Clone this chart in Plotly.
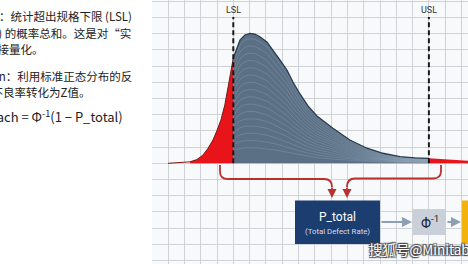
import numpy as np
import plotly.graph_objects as go

W, H = 468, 264
X0, CELL_X, Y0, CELL_Y = 151.8, 16.3, 163.3, 16.2

# ---- data (grid units) ----
curve_u = [0.99, 1.72, 2.34, 2.77, 3.14, 3.44, 3.75, 3.99, 4.24, 4.48, 4.73, 5.0, 5.41, 5.71,
           6.02, 6.32, 6.63, 7.06, 7.43, 7.86, 8.29, 8.66, 9.09, 9.58, 10.13, 11.11, 12.15,
           13.2, 14.18, 15.22, 16.14, 17.0, 17.98, 19.4]
curve_v = [0.0, 0.03, 0.09, 0.23, 0.51, 0.91, 1.44, 1.99, 2.67, 3.6, 5.12, 6.5, 7.61, 7.92,
           8.02, 7.98, 7.81, 7.49, 7.0, 6.38, 5.76, 5.02, 4.28, 3.54, 2.92, 2.16, 1.44,
           0.93, 0.62, 0.41, 0.34, 0.31, 0.23, 0.15]
LSL, USL = 5.0, 17.0
spec_labels = ["LSL", "USL"]
left_lines = [
    "n：统计超出规格下限 (LSL)",
    "率 (P) 的概率总和。这是对“实",
    "直接量化。",
    "Transformation：利用标准正态分布的反",
    "将不良率转化为Z值。",
    "Z_Approach = Φ<sup>-1</sup>(1 − P_total)",
]
left_right_px = [134, 133, 46, 134, 92, 125]
left_y_px = [16, 33, 49, 76, 92, 116]
left_sizes = [11.5, 11.5, 11.5, 11.5, 11.5, 13]
box_title, box_sub = "P_total", "(Total Defect Rate)"
phi_text = "Φ<sup>-1</sup>"
watermark = "搜狐号@Minitab University"

u = np.array(curve_u); v = np.array(curve_v)

def pu(x):  # pixel x -> grid unit
    return (x - X0) / CELL_X

def pv(y):  # pixel y -> grid unit
    return (Y0 - y) / CELL_Y

fig = go.Figure()

GRAY = "#5b6f85"
RED = "#e8141a"
m_mid = (u >= LSL) & (u <= USL)
m_left = (u >= 2.3) & (u <= LSL)
m_right = u >= USL

fig.add_trace(go.Scatter(x=u[m_mid], y=v[m_mid], fill="tozeroy", fillcolor=GRAY,
                         line=dict(width=0), mode="lines", hoverinfo="skip"))
# texture lines (scaled copies of the curve inside the grey area)
for k in np.linspace(0.12, 0.96, 16):
    fig.add_trace(go.Scatter(x=u[m_mid], y=v[m_mid] * k, mode="lines",
                             line=dict(width=0.6, color="rgba(190,205,220,0.35)"),
                             hoverinfo="skip"))
fig.add_trace(go.Scatter(x=u[m_left], y=v[m_left], fill="tozeroy", fillcolor=RED,
                         line=dict(width=0), mode="lines", hoverinfo="skip"))
fig.add_trace(go.Scatter(x=u[m_right], y=v[m_right], fill="tozeroy", fillcolor=RED,
                         line=dict(width=0), mode="lines", hoverinfo="skip"))
fig.add_trace(go.Scatter(x=u[u <= LSL], y=v[u <= LSL], mode="lines",
                         line=dict(width=1, color="#7a1a1a"), hoverinfo="skip"))
fig.add_trace(go.Scatter(x=u[m_mid], y=v[m_mid], mode="lines",
                         line=dict(width=1.3, color="#2a3b50"), hoverinfo="skip"))

shapes = []
annos = []
# spec limit lines
for s, lab in zip([LSL, USL], spec_labels):
    shapes.append(dict(type="line", xref="x", yref="y", x0=s, x1=s, y0=0, y1=pv(17),
                       line=dict(color="#1a1a1a", width=2, dash="5px,3px"), layer="above"))
    annos.append(dict(x=s, y=pv(9.5), xref="x", yref="y", text=lab, showarrow=False,
                      font=dict(size=9, color="#333333", family="Roboto")))

ARC = "#b9302f"
# red connector paths
lp = (f"M {pu(220)},{pv(165)} L {pu(220)},{pv(172)} Q {pu(220)},{pv(179)} {pu(228)},{pv(179)} "
      f"L {pu(324)},{pv(179)} Q {pu(332)},{pv(179)} {pu(332)},{pv(187)}")
rp = (f"M {pu(441)},{pv(165)} L {pu(441)},{pv(171)} Q {pu(441)},{pv(178.5)} {pu(433)},{pv(178.5)} "
      f"L {pu(355)},{pv(178.5)} Q {pu(347)},{pv(178.5)} {pu(347)},{pv(187)}")
for p in (lp, rp):
    shapes.append(dict(type="path", xref="x", yref="y", path=p,
                       line=dict(color=ARC, width=1.8), layer="above"))
for xt in (332, 347):
    annos.append(dict(x=pu(xt), y=pv(198), ax=pu(xt), ay=pv(186), xref="x", yref="y",
                      axref="x", ayref="y", text="", showarrow=True, arrowhead=2,
                      arrowsize=1, arrowwidth=1.8, arrowcolor=ARC, standoff=0))

# boxes
shapes.append(dict(type="rect", xref="x", yref="y", x0=pu(295), x1=pu(380), y0=pv(200.5), y1=pv(244),
                   fillcolor="#1c3d70", line=dict(width=0), layer="above"))
shapes.append(dict(type="rect", xref="x", yref="y", x0=pu(413), x1=pu(446), y0=pv(209), y1=pv(235),
                   fillcolor="#c9d0d9", line=dict(width=0), layer="above"))
shapes.append(dict(type="rect", xref="x", yref="y", x0=pu(462), x1=pu(472), y0=pv(200.5), y1=pv(244),
                   fillcolor="#f4b30c", line=dict(width=0), layer="above"))
annos.append(dict(x=pu(337.5), y=pv(216.5), xref="x", yref="y", text=box_title, showarrow=False,
                  font=dict(size=12, color="white", family="Roboto")))
annos.append(dict(x=pu(337.5), y=pv(231), xref="x", yref="y", text=box_sub, showarrow=False,
                  font=dict(size=7.8, color="#d5dde9", family="Roboto")))
annos.append(dict(x=pu(429.5), y=pv(222), xref="x", yref="y", text=phi_text, showarrow=False,
                  font=dict(size=14, color="#1c2838", family="Roboto")))
for xa, xb in ((380, 412), (446, 461)):
    annos.append(dict(x=pu(xb), y=pv(222), ax=pu(xa), ay=pv(222), xref="x", yref="y",
                      axref="x", ayref="y", text="", showarrow=True, arrowhead=2,
                      arrowsize=1, arrowwidth=2, arrowcolor="#8d9fb3", standoff=0))

# left panel text
for t, xr, yp, fs in zip(left_lines, left_right_px, left_y_px, left_sizes):
    annos.append(dict(x=xr / W, y=1 - yp / H, xref="paper", yref="paper", text=t,
                      xanchor="right", yanchor="middle", showarrow=False,
                      font=dict(size=fs, color="#222222", family="Noto Sans CJK SC")))

# watermark
annos.append(dict(x=367 / W, y=1 - 249 / H, xref="paper", yref="paper", text=watermark,
                  xanchor="left", yanchor="middle", showarrow=False,
                  font=dict(size=13.5, color="white", family="Noto Sans CJK SC",
                            shadow="1px 1px 1px #444, -1px -1px 1px #444, 1px -1px 1px #444, -1px 1px 1px #444")))

fig.update_layout(
    width=W, height=H, margin=dict(l=0, r=0, t=0, b=0),
    paper_bgcolor="white", plot_bgcolor="#f8f9fa", showlegend=False,
    shapes=shapes, annotations=annos,
    xaxis=dict(domain=[X0 / W, 1], range=[0, (W - X0) / CELL_X], dtick=1, tick0=0,
               showgrid=True, gridcolor="#cfd3d8", gridwidth=1, zeroline=False,
               showticklabels=False, ticks="", fixedrange=True),
    yaxis=dict(domain=[0, 1], range=[pv(H), pv(0)], dtick=1, tick0=0,
               showgrid=True, gridcolor="#cfd3d8", gridwidth=1, zeroline=False,
               showticklabels=False, ticks="", fixedrange=True),
)
fig.write_html("out.html")
